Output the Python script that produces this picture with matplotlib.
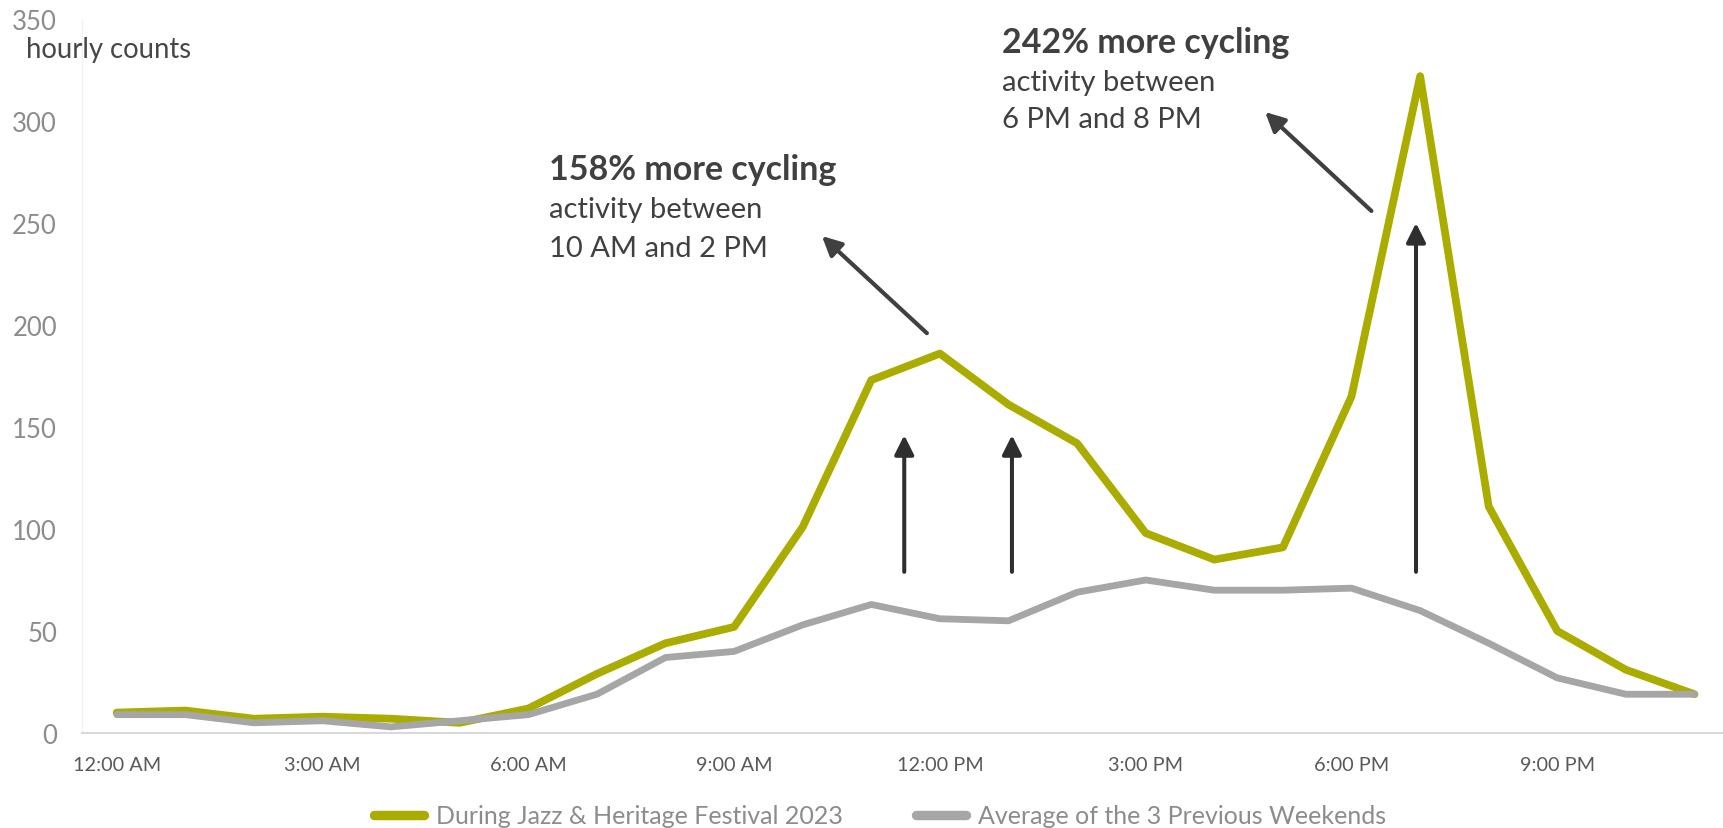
import matplotlib
matplotlib.use("Agg")
import matplotlib.pyplot as plt

# Hourly bicycle counts, 12 AM .. 11 PM
hours = list(range(24))
festival = [10, 11, 7, 8, 7, 5, 12, 29, 44, 52, 101, 173, 186, 161, 142, 98,
            85, 91, 165, 322, 111, 50, 31, 19]
previous = [9, 9, 5, 6, 3, 6, 9, 19, 37, 40, 53, 63, 56, 55, 69, 75,
            70, 70, 71, 60, 44, 27, 19, 19]
tick_hours = [0, 3, 6, 9, 12, 15, 18, 21]
tick_labels = ["12:00 AM", "3:00 AM", "6:00 AM", "9:00 AM", "12:00 PM",
               "3:00 PM", "6:00 PM", "9:00 PM"]
y_ticks = [0, 50, 100, 150, 200, 250, 300, 350]
series_names = ["During Jazz & Heritage Festival 2023",
                "Average of the 3 Previous Weekends"]

GREEN = "#AAAD00"
GREY = "#A6A6A6"
DARK = "#404040"
ARROW = "#2E2E2E"
FONT = "Lato"

plt.rcParams["font.family"] = [FONT, "DejaVu Sans"]

W, H = 1723, 829
fig = plt.figure(figsize=(W / 100, H / 100), dpi=100)
ax = fig.add_axes([82.4 / W, (H - 734) / H, 1643 / W, 714 / H])

l1, = ax.plot(hours, festival, color=GREEN, lw=5.6, solid_capstyle="round",
              solid_joinstyle="round", zorder=3, label=series_names[0])
l2, = ax.plot(hours, previous, color=GREY, lw=4.9, solid_capstyle="round",
              solid_joinstyle="round", zorder=4, label=series_names[1])

ax.set_xlim(-0.5, 23.45)
ax.set_ylim(0, 350)
ax.set_xticks(tick_hours)
ax.set_xticklabels(tick_labels)
ax.set_yticks(y_ticks)
ax.tick_params(axis="x", length=0, pad=16.5, labelsize=14.3, labelcolor="#595959")
ax.tick_params(axis="y", length=0, pad=18.3, labelsize=18.5, labelcolor="#8C8C8C")

for side in ("top", "right"):
    ax.spines[side].set_visible(False)
ax.spines["left"].set_color("#F2F2F2")
ax.spines["left"].set_linewidth(1.0)
ax.spines["bottom"].set_color("#D9D9D9")
ax.spines["bottom"].set_linewidth(1.5)

fig.text(26 / W, 1 - 58 / H, "hourly counts", fontsize=19.8, color="#474747",
         ha="left", va="baseline")

# Vertical arrows: rise from the usual level to the festival level
arrow_kw = dict(arrowstyle="-|>,head_length=0.4,head_width=0.2", lw=2.9,
                color=ARROW, mutation_scale=29, shrinkA=0, shrinkB=0)
for x0, y0, y1 in [(11.48, 79, 146), (13.05, 79, 146), (18.94, 79, 250)]:
    ax.annotate("", xy=(x0, y1), xytext=(x0, y0), arrowprops=arrow_kw,
                annotation_clip=False)

# Diagonal pointers to the call-out texts
diag_kw = dict(arrowstyle="-|>,head_length=0.4,head_width=0.2", lw=3.0,
               color=DARK, mutation_scale=29, shrinkA=0, shrinkB=0)
ax.annotate("", xy=(10.28, 243.6), xytext=(11.81, 196), arrowprops=diag_kw)
ax.annotate("", xy=(16.74, 304.4), xytext=(18.29, 255.9), arrowprops=diag_kw)

# Call-out texts
callouts = [
    (6.30, [271.6, 253.0, 233.8],
     ["158% more cycling", "activity between", "10 AM and 2 PM"]),
    (12.91, [333.8, 315.2, 297.1],
     ["242% more cycling", "activity between", "6 PM and 8 PM"]),
]
for x0, ys, lines in callouts:
    ax.text(x0, ys[0], lines[0], fontsize=24.5, fontweight="bold", color=DARK,
            ha="left", va="baseline")
    for yy, txt in zip(ys[1:], lines[1:]):
        ax.text(x0, yy, txt, fontsize=21, color=DARK, ha="left", va="baseline")

leg = fig.legend(handles=[l1, l2], loc="center",
                 bbox_to_anchor=(880 / W, 1 - 817 / H), ncol=2, frameon=False,
                 fontsize=18, handlelength=2.0, handletextpad=0.5,
                 columnspacing=2.9, labelcolor="#8C8C8C")
for h in leg.legend_handles:
    h.set_linewidth(6.8)
    h.set_solid_capstyle("round")

fig.savefig("out.png", dpi=100, facecolor="white")
